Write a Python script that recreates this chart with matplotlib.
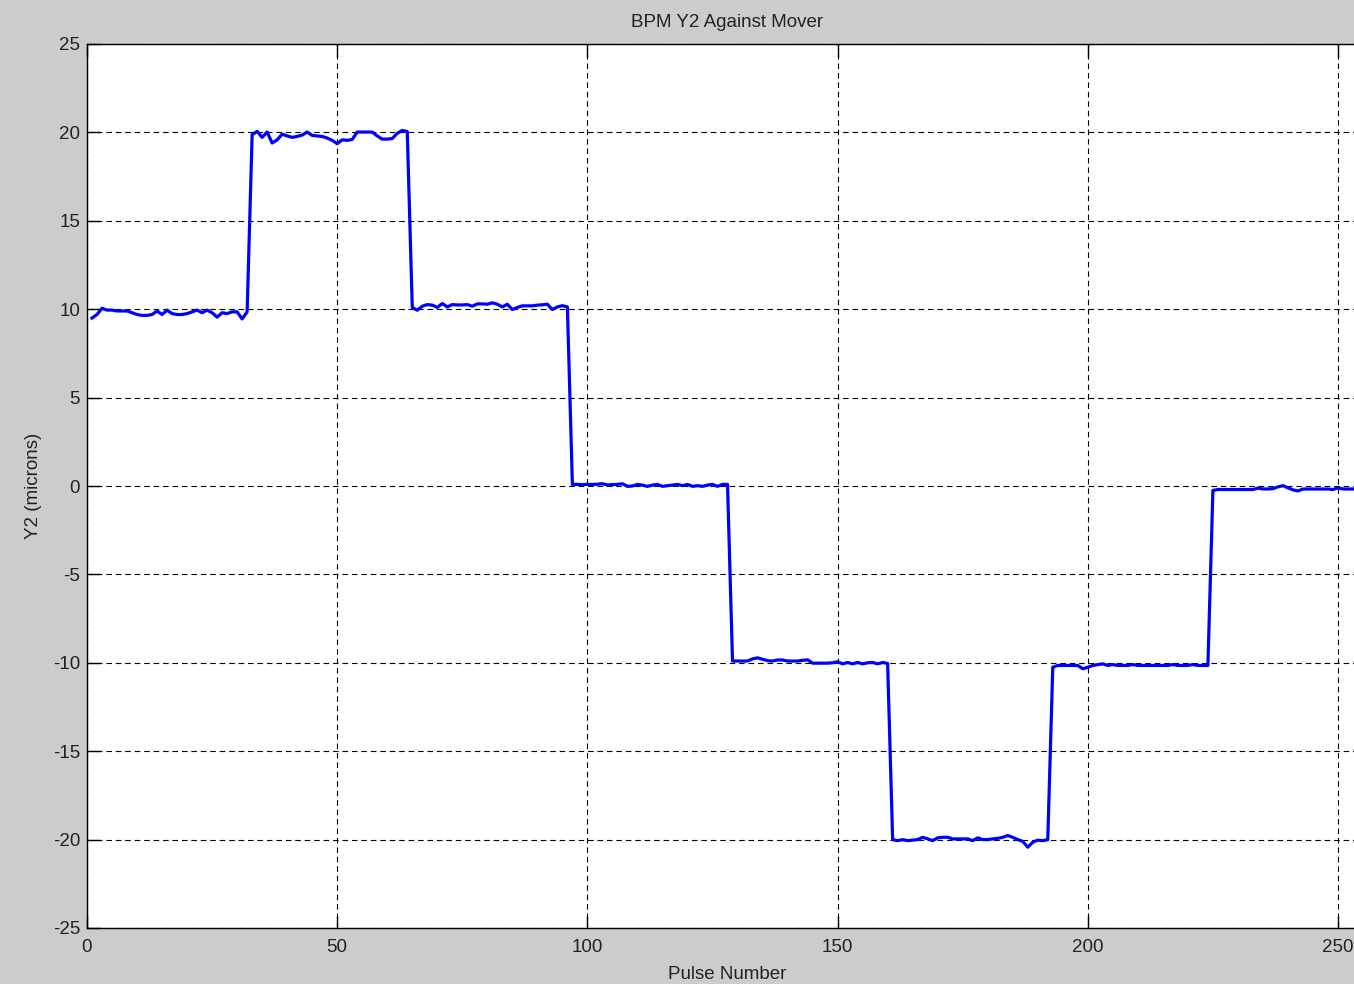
import matplotlib
matplotlib.use("Agg")
import matplotlib.pyplot as plt
import numpy as np

# ---- data ----
seg_10a = [9.5, 9.7, 10.05, 9.95, 9.95, 9.9, 9.9, 9.9, 9.8, 9.7, 9.65, 9.65, 9.7, 9.9, 9.7, 9.95,
           9.75, 9.7, 9.7, 9.75, 9.85, 9.95, 9.8, 9.95, 9.8, 9.55, 9.8, 9.75, 9.85, 9.85, 9.45, 9.85]
seg_20 = [19.87, 20.06, 19.72, 20.02, 19.4, 19.58, 19.9, 19.8, 19.72, 19.77, 19.85, 20.02, 19.83, 19.8,
          19.77, 19.68, 19.55, 19.36, 19.58, 19.55, 19.6, 20.02, 20.02, 20.02, 20.02, 19.8, 19.62, 19.62,
          19.65, 19.95, 20.11, 20.05]
seg_10b = [10.1, 9.94, 10.17, 10.26, 10.23, 10.1, 10.32, 10.13, 10.26, 10.24, 10.24, 10.26, 10.17, 10.3,
           10.3, 10.28, 10.36, 10.28, 10.13, 10.28, 9.98, 10.1, 10.19, 10.19, 10.19, 10.23, 10.25, 10.28,
           9.98, 10.13, 10.2, 10.13]
seg_0a = [0.09, 0.09, 0.08, 0.09, 0.09, 0.1, 0.13, 0.06, 0.08, 0.09, 0.13, -0.02, 0.0, 0.09, 0.05, -0.02,
          0.05, 0.09, -0.02, 0.02, 0.05, 0.09, 0.02, 0.09, -0.02, 0.02, -0.02, 0.05, 0.09, -0.02, 0.09, 0.09]
seg_m10a = [-9.9, -9.9, -9.9, -9.9, -9.78, -9.72, -9.8, -9.88, -9.9, -9.84, -9.84, -9.9, -9.9, -9.9,
            -9.86, -9.83, -10.02, -10.02, -10.02, -10.02, -10.0, -9.94, -10.06, -9.98, -10.06, -9.98,
            -10.06, -10.0, -9.98, -10.06, -9.98, -10.04]
seg_m20 = [-20.0, -20.06, -20.0, -20.06, -20.03, -20.0, -19.87, -19.96, -20.06, -19.9, -19.87, -19.87,
           -19.96, -19.96, -19.96, -19.96, -20.06, -19.9, -20.0, -20.0, -19.96, -19.93, -19.87, -19.77,
           -19.87, -20.0, -20.1, -20.43, -20.15, -20.03, -20.06, -20.0]
seg_m10b = [-10.25, -10.15, -10.15, -10.15, -10.15, -10.15, -10.34, -10.25, -10.15, -10.1, -10.06, -10.15,
            -10.1, -10.15, -10.15, -10.15, -10.1, -10.15, -10.15, -10.15, -10.15, -10.15, -10.15, -10.15,
            -10.1, -10.15, -10.15, -10.15, -10.1, -10.15, -10.15, -10.15]
seg_0b = [-0.25, -0.2, -0.2, -0.2, -0.2, -0.2, -0.2, -0.2, -0.2, -0.12, -0.17, -0.17, -0.15, -0.05,
          0.02, -0.1, -0.22, -0.28, -0.17, -0.17, -0.17, -0.17, -0.17, -0.17, -0.2, -0.1, -0.17, -0.17,
          -0.17, -0.17, -0.15, -0.17]

y2 = np.array(seg_10a + seg_20 + seg_10b + seg_0a + seg_m10a + seg_m20 + seg_m10b + seg_0b)
pulse = np.arange(1, len(y2) + 1)

x_ticks = [0, 50, 100, 150, 200, 250]
y_ticks = [-25, -20, -15, -10, -5, 0, 5, 10, 15, 20, 25]

title = "BPM Y2 Against Mover"
xlabel = "Pulse Number"
ylabel = "Y2 (microns)"

# ---- figure ----
plt.rcParams["font.family"] = ["Liberation Sans", "DejaVu Sans"]
plt.rcParams["axes.unicode_minus"] = False

W, H = 1354, 984
fig = plt.figure(figsize=(W / 100, H / 100), dpi=100, facecolor="#cccccc")

px_per_unit = 5.004
left_px, top_px, bottom_px = 87, 44, 928
ax = fig.add_axes([left_px / W, (H - bottom_px) / H,
                   256 * px_per_unit / W, (bottom_px - top_px) / H])
ax.set_facecolor("white")

ax.plot(pulse, y2, color=(0, 0, 1), lw=2.3, zorder=3)

ax.set_xlim(0, 256)
ax.set_ylim(-25, 25)
ax.set_xticks(x_ticks)
ax.set_yticks(y_ticks)
ax.tick_params(direction="in", length=9, width=1, color="black",
               labelsize=13.5, labelcolor="#222222", top=True, right=True)
ax.tick_params(axis="x", pad=8)
ax.tick_params(axis="y", pad=5)
for s in ax.spines.values():
    s.set_linewidth(1.0)
    s.set_color("black")

ax.grid(True, color="black", lw=0.8, linestyle=(0, (5, 3.5)))
ax.set_axisbelow(False)

ax.set_title(title, fontsize=13.5, pad=12, color="#222222")
ax.set_xlabel(xlabel, fontsize=13.5, labelpad=7, color="#222222")
ax.set_ylabel(ylabel, fontsize=13.5, labelpad=8, color="#222222")

fig.savefig("out.png", dpi=100, facecolor=fig.get_facecolor())
